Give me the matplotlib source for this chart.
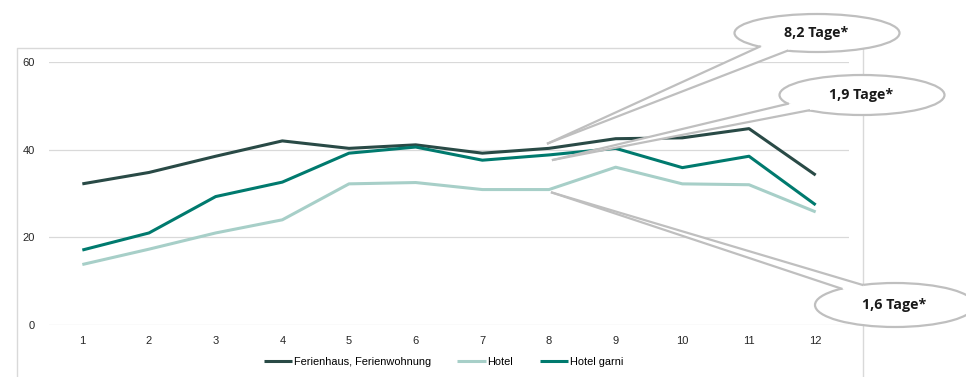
"""Monthly line chart with callout bubbles."""

import numpy as np
import matplotlib
matplotlib.use("Agg")
import matplotlib.pyplot as plt
from matplotlib.patches import Ellipse, Polygon
from matplotlib.lines import Line2D

months = list(range(1, 13))
ferienhaus = [32.2, 34.8, 38.5, 42.0, 40.3, 41.1, 39.2, 40.3, 42.5, 42.7, 44.8, 34.2]
hotel = [13.8, 17.3, 21.0, 24.0, 32.2, 32.5, 30.9, 30.9, 36.0, 32.2, 32.0, 25.8]
hotel_garni = [17.1, 21.0, 29.3, 32.6, 39.2, 40.6, 37.6, 38.8, 40.3, 35.9, 38.5, 27.4]
series_labels = ["Ferienhaus, Ferienwohnung", "Hotel", "Hotel garni"]
callout_texts = ["8,2 Tage*", "1,9 Tage*", "1,6 Tage*"]
yticks = [0, 20, 40, 60]

COLORS = ["#294a46", "#a7cfc8", "#007a6e"]
GRID = "#d9d9d9"
CALLOUT_EDGE = "#bfbfbf"

W, H = 966, 377
plt.rcParams["font.family"] = ["Liberation Sans", "DejaVu Sans"]

fig = plt.figure(figsize=(W / 100, H / 100), dpi=100)
ax = fig.add_axes([49 / W, 1 - 325 / H, 800 / W, 263 / H])

for values, color, label in zip([ferienhaus, hotel, hotel_garni], COLORS, series_labels):
    ax.plot(months, values, color=color, lw=2.2, label=label, solid_capstyle="butt")

ax.set_xlim(0.5, 12.5)
ax.set_ylim(0, 60)
ax.set_xticks(months)
ax.set_yticks(yticks)
ax.tick_params(length=0, labelsize=8, colors="#262626")
ax.tick_params(axis="y", pad=10)
ax.tick_params(axis="x", pad=8)
ax.grid(axis="y", color=GRID, lw=0.9)
ax.set_axisbelow(True)
for spine in ax.spines.values():
    spine.set_visible(False)

fig.legend(loc="center", bbox_to_anchor=(0.459, 1 - 362 / H), ncol=3, frameon=False,
           fontsize=7.9, handlelength=2.6, handletextpad=0.15, columnspacing=2.4)

# overlay in pixel coordinates (origin top-left)
over = fig.add_axes([0, 0, 1, 1], zorder=10)
over.set_xlim(0, W)
over.set_ylim(H, 0)
over.axis("off")
over.patch.set_alpha(0)

# chart frame
over.add_line(Line2D([17, 17, 863, 863], [H + 5, 48, 48, H + 5], color=GRID, lw=1.0))


def to_pixels(x, y):
    disp = ax.transData.transform((x, y))
    return over.transData.inverted().transform(disp)


def callout(text, center, width, height, angles, tip):
    cx, cy = center
    base = [(cx + width / 2 * np.cos(np.radians(a)), cy + height / 2 * np.sin(np.radians(a)))
            for a in angles]
    over.add_patch(Ellipse(center, width, height, facecolor="white",
                           edgecolor=CALLOUT_EDGE, lw=1.6, zorder=5))
    over.add_patch(Polygon([tip, base[0], (cx, cy), base[1]], closed=True,
                           facecolor="white", edgecolor="none", zorder=6))
    for bx, by in base:
        over.add_line(Line2D([tip[0], bx], [tip[1], by], color=CALLOUT_EDGE, lw=1.6, zorder=7))
    over.text(cx - 1, cy, text, ha="center", va="center", fontsize=10.3, fontweight="bold",
              family=["Open Sans", "DejaVu Sans"], color="#1a1a1a", zorder=8)


tip1 = to_pixels(8, ferienhaus[7]) + np.array([-1, -5])
tip2 = to_pixels(8, hotel_garni[7]) + np.array([4, 5])
tip3 = to_pixels(8, hotel[7]) + np.array([3, 3])

callout(callout_texts[0], (817, 33), 165, 38, (134, 111), tip1)
callout(callout_texts[1], (862, 95), 165, 40, (154, 130), tip2)
callout(callout_texts[2], (895, 305), 160, 44, (228, 246), tip3)

fig.savefig("out.png", dpi=100)
